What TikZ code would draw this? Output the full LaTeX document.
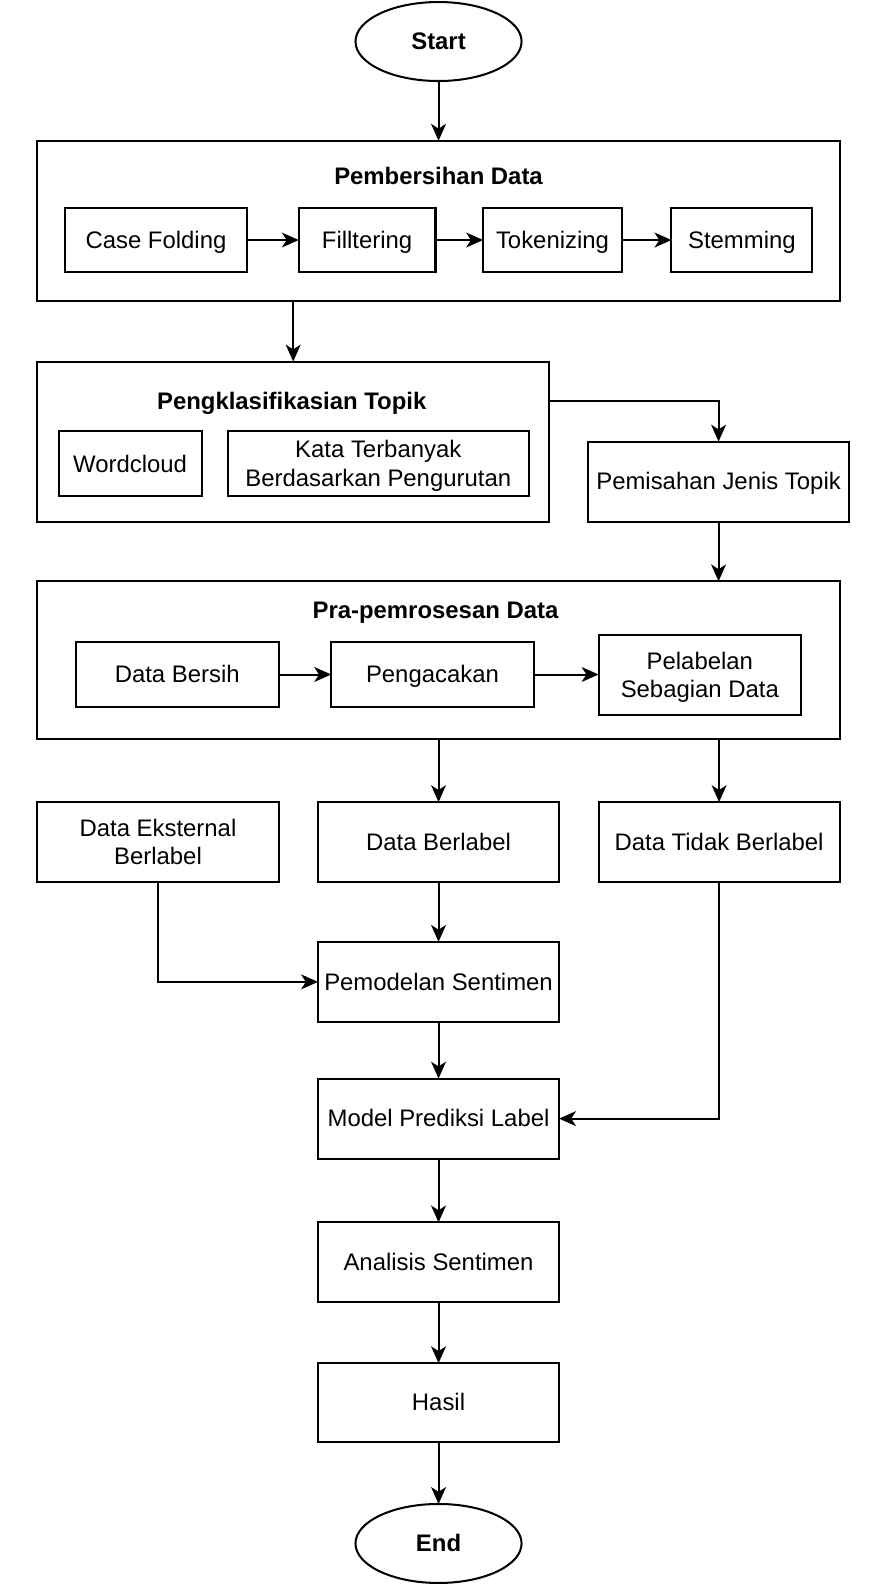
\documentclass[tikz,border=0pt]{standalone}
\usepackage{fontspec}
\setmainfont{Liberation Sans}
\usetikzlibrary{shapes.geometric,arrows.meta,calc}
\newcommand\pbox[7]{\node[#7, minimum width={(#4-#2)*0.75pt}, minimum height={(#5-#3)*0.75pt}] (#1) at ({(#2+#4)/2},{(#3+#5)/2}) {#6};}
\newcommand\st{\rule[-0.212em]{0pt}{1.117em}}
\tikzset{
  box/.style={draw, line width=1.5pt, rectangle, inner sep=0pt, outer sep=0pt, align=center, font=\fontsize{17.7}{21}\selectfont},
  oval/.style={draw, line width=1.5pt, ellipse, inner sep=0pt, outer sep=0pt, font=\fontsize{17.7}{21}\selectfont\bfseries},
  ttl/.style={font=\fontsize{17.7}{21}\selectfont\bfseries, inner sep=0pt},
  arr/.style={line width=1.5pt, -{Stealth[length=12.5pt,width=11pt,inset=3.5pt]}}
}
\begin{document}
\begin{tikzpicture}[x=0.75pt,y=-0.75pt]
\useasboundingbox[fill=white] (0,0) rectangle (881.7,1566);
% start
\pbox{start}{351}{2}{515}{80}{\st Start}{oval}
% Pembersihan Data
\pbox{PD}{37}{139}{829}{297}{}{box}
\node[ttl] (PDt) at (433,174) {\st Pembersihan Data};
\pbox{CF}{64}{205}{244}{269}{\st Case Folding}{box}
\pbox{FI}{295}{205}{430}{269}{\st Filltering}{box}
\pbox{TO}{477}{205}{614}{269}{\st Tokenizing}{box}
\pbox{ST}{663}{205}{802}{269}{\st Stemming}{box}
% Pengklasifikasian
\pbox{PK}{37}{357}{542}{515}{}{box}
\node[ttl] (PKt) at (288,396) {\st Pengklasifikasian Topik};
\pbox{WC}{58}{426}{199}{490}{\st Wordcloud}{box}
\pbox{KT}{225}{426}{522}{490}{\st Kata Terbanyak\\\st Berdasarkan Pengurutan}{box}
\pbox{PJ}{581}{436}{838}{515}{\st Pemisahan Jenis Topik}{box}
% Pra-pemrosesan
\pbox{PP}{37}{574}{829}{730}{}{box}
\node[ttl] (PPt) at (430,603) {\st Pra-pemrosesan Data};
\pbox{DBs}{75}{634}{275}{698}{\st Data Bersih}{box}
\pbox{PG}{327}{634}{527}{698}{\st Pengacakan}{box}
\pbox{PL}{591}{627}{791}{706}{\st Pelabelan\\\st Sebagian Data}{box}
% row
\pbox{DE}{37}{792}{275}{871}{\st Data Eksternal\\\st Berlabel}{box}
\pbox{DB}{314}{792}{552}{871}{\st Data Berlabel}{box}
\pbox{DT}{591}{792}{829}{871}{\st Data Tidak Berlabel}{box}
\pbox{PS}{314}{930}{552}{1009}{\st Pemodelan Sentimen}{box}
\pbox{MP}{314}{1065}{552}{1144}{\st Model Prediksi Label}{box}
\pbox{AS}{314}{1207}{552}{1286}{\st Analisis Sentimen}{box}
\pbox{HS}{314}{1346}{552}{1424}{\st Hasil}{box}
\pbox{end}{351}{1485}{515}{1563}{\st End}{oval}
% arrows
\draw[arr] (start.south) -- (PD.north);
\draw[arr] (CF.east) -- (FI.west);
\draw[arr] (FI.east) -- (TO.west);
\draw[arr] (TO.east) -- (ST.west);
\draw[arr] (PK.north |- PD.south) -- (PK.north);
\draw[arr] (PKt -| PK.east) -| (PJ.north);
\draw[arr] (PJ.south) -- (PJ.south |- PP.north);
\draw[arr] (DBs.east) -- (PG.west);
\draw[arr] (PG.east) -- (PG.east -| PL.west);
\draw[arr] (DB.north |- PP.south) -- (DB.north);
\draw[arr] (DT.north |- PP.south) -- (DT.north);
\draw[arr] (DE.south) |- (PS.west);
\draw[arr] (DB.south) -- (PS.north);
\draw[arr] (PS.south) -- (MP.north);
\draw[arr] (DT.south) |- (MP.east);
\draw[arr] (MP.south) -- (AS.north);
\draw[arr] (AS.south) -- (HS.north);
\draw[arr] (HS.south) -- (end.north);
\end{tikzpicture}
\end{document}
